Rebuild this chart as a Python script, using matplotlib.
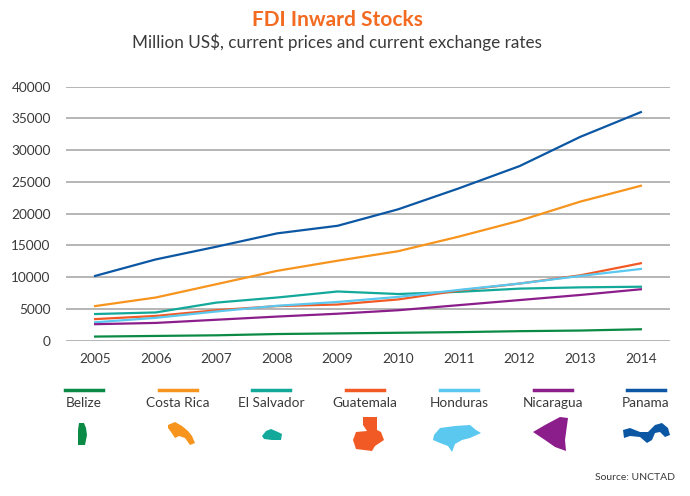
import matplotlib.pyplot as plt
from matplotlib.patches import Polygon
from matplotlib.lines import Line2D

plt.rcParams['font.family'] = ['Lato', 'DejaVu Sans']

years = [2005, 2006, 2007, 2008, 2009, 2010, 2011, 2012, 2013, 2014]

belize = [650, 750, 850, 1050, 1150, 1250, 1350, 1500, 1600, 1800]
costa_rica = [5450, 6800, 8900, 11000, 12600, 14100, 16400, 18900, 21900, 24400]
el_salvador = [4200, 4450, 6000, 6800, 7750, 7350, 7700, 8200, 8400, 8500]
guatemala = [3400, 3900, 4800, 5450, 5700, 6500, 7900, 9000, 10300, 12200]
honduras = [2900, 3600, 4600, 5500, 6100, 6900, 8000, 9000, 10200, 11300]
nicaragua = [2600, 2800, 3300, 3800, 4250, 4800, 5600, 6400, 7200, 8100]
panama = [10200, 12800, 14800, 16900, 18100, 20700, 24000, 27500, 32100, 36000]

countries = ['Belize', 'Costa Rica', 'El Salvador', 'Guatemala', 'Honduras', 'Nicaragua', 'Panama']
series = [belize, costa_rica, el_salvador, guatemala, honduras, nicaragua, panama]
colors = ['#0b8a45', '#f7941d', '#12a99b', '#f15a24', '#5bc8f0', '#8b1e8b', '#0b57a4']

yticks = [0, 5000, 10000, 15000, 20000, 25000, 30000, 35000, 40000]

# rough outlines of the little maps under the legend (figure pixels, y from top)
shapes = [
    [(79, 423), (84, 423), (86, 428), (87, 435), (85, 445), (78, 445), (78, 430)],
    [(168, 425), (175, 422), (182, 426), (188, 431), (192, 436), (195, 443), (190, 445),
     (185, 438), (179, 436), (175, 438), (171, 432), (168, 428)],
    [(262, 436), (266, 431), (271, 429), (278, 432), (282, 434), (281, 440), (272, 440), (264, 439)],
    [(363, 417), (377, 417), (377, 430), (381, 432), (384, 440), (375, 446), (372, 451),
     (356, 449), (353, 440), (356, 432), (367, 431), (363, 425)],
    [(434, 435), (440, 428), (455, 426), (470, 425), (476, 430), (481, 433), (470, 438),
     (462, 440), (455, 444), (452, 452), (448, 446), (440, 443), (433, 440)],
    [(560, 417), (568, 418), (565, 440), (566, 451), (555, 447), (545, 440), (533, 432), (545, 425)],
    [(623, 430), (630, 428), (640, 432), (648, 432), (655, 425), (662, 423), (668, 428), (670, 435),
     (665, 437), (660, 432), (655, 433), (652, 440), (647, 443), (640, 437), (630, 436), (624, 438)],
]

W, H = 690, 496
fig = plt.figure(figsize=(6.9, 4.96), dpi=100)
ax = fig.add_axes([66 / W, 1 - 340.7 / H, (670 - 66) / W, 254 / H])

for vals, c in zip(series, colors):
    ax.plot(years, vals, color=c, linewidth=1.6, zorder=3)

ax.set_xlim(2004.52, 2014.48)
ax.set_ylim(0, 40000)
ax.set_xticks(years)
ax.set_yticks(yticks)
ax.set_yticklabels([str(t) for t in yticks])
ax.grid(axis='y', color='#b0b0b0', linewidth=1.3)
ax.set_axisbelow(True)
for s in ax.spines.values():
    s.set_visible(False)
ax.tick_params(length=0, labelsize=9.8, labelcolor='#3a3a3a')
ax.tick_params(axis='y', pad=11)
ax.tick_params(axis='x', pad=9)

fig.text(337 / W, 1 - 20 / H, 'FDI Inward Stocks', ha='center', va='center',
         fontsize=15, fontweight='bold', color='#f26b21')
fig.text(337 / W, 1 - 42 / H, 'Million US$, current prices and current exchange rates',
         ha='center', va='center', fontsize=12.3, color='#3a3a3a')

# legend row with maps
centers = [84, 178, 271, 365, 459, 553, 646]
for name, c, cx, shp in zip(countries, colors, centers, shapes):
    fig.add_artist(Line2D([(cx - 19) / W, (cx + 19) / W], [1 - 390 / H, 1 - 390 / H],
                          color=c, linewidth=2.5))
    fig.text(cx / W, 1 - 403 / H, name, ha='center', va='center', fontsize=9.8, color='#3a3a3a')
    pts = [(px / W, 1 - py / H) for px, py in shp]
    fig.add_artist(Polygon(pts, closed=True, facecolor=c, edgecolor='none',
                           transform=fig.transFigure))

fig.text(675 / W, 1 - 477 / H, 'Source: UNCTAD', ha='right', va='center',
         fontsize=7.5, color='#3a3a3a')

plt.savefig('out.png', dpi=100)
